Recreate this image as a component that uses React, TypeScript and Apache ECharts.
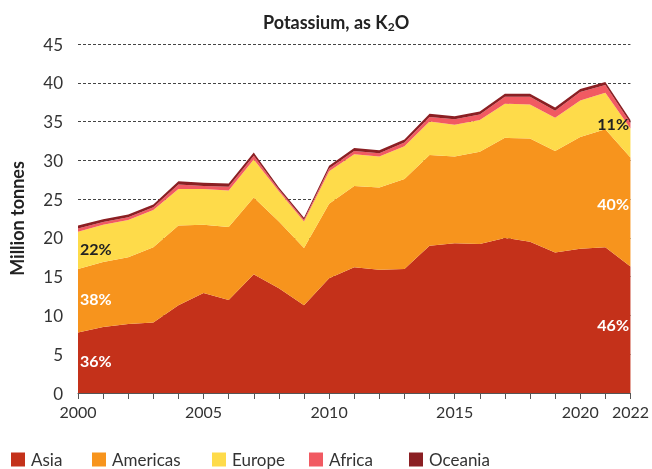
import React, { useEffect, useRef } from "react";
import * as echarts from "echarts";

const years = ["2000","2001","2002","2003","2004","2005","2006","2007","2008","2009","2010","2011","2012","2013","2014","2015","2016","2017","2018","2019","2020","2021","2022"];
const asia = [7.8, 8.5, 8.9, 9.1, 11.3, 12.9, 12.0, 15.3, 13.5, 11.3, 14.8, 16.2, 15.9, 16.0, 19.0, 19.3, 19.2, 20.0, 19.5, 18.1, 18.6, 18.8, 16.3];
const americas = [8.2, 8.4, 8.6, 9.7, 10.3, 8.8, 9.4, 9.9, 8.6, 7.4, 9.6, 10.5, 10.6, 11.6, 11.7, 11.2, 11.9, 12.9, 13.3, 13.1, 14.4, 15.2, 14.05];
const europe = [4.8, 4.8, 4.8, 4.8, 4.7, 4.6, 4.7, 4.9, 3.9, 3.4, 4.2, 4.1, 4.0, 4.2, 4.3, 4.1, 4.1, 4.4, 4.4, 4.3, 4.7, 4.7, 3.75];
const africa = [0.4, 0.35, 0.35, 0.35, 0.6, 0.4, 0.5, 0.5, 0.25, 0.25, 0.35, 0.4, 0.4, 0.5, 0.6, 0.7, 0.7, 0.9, 1.0, 0.9, 1.1, 1.0, 0.7];
const oceania = [0.4, 0.35, 0.35, 0.35, 0.4, 0.4, 0.4, 0.4, 0.25, 0.25, 0.35, 0.4, 0.4, 0.4, 0.4, 0.4, 0.4, 0.4, 0.4, 0.4, 0.4, 0.4, 0.4];
const yTicks = [0, 5, 10, 15, 20, 25, 30, 35, 40, 45];
const xLabelYears = ["2000", "2005", "2010", "2015", "2020", "2022"];

const names = ["Asia", "Americas", "Europe", "Africa", "Oceania"];
const colors = ["#C4311A", "#F7941D", "#FEDB4A", "#F15A62", "#8B1F23"];
const seriesData = [asia, americas, europe, africa, oceania];

const FONT = "Lato, 'Noto Sans', sans-serif";

function pct(arr: number[], i: number): string {
  const total = asia[i] + americas[i] + europe[i] + africa[i] + oceania[i];
  return Math.round((arr[i] / total) * 100) + "%";
}

export default function App() {
  const ref = useRef<HTMLDivElement>(null);
  useEffect(() => {
    if (!ref.current) return;
    const chart = echarts.init(ref.current, undefined, { renderer: "svg" });
    const last = years.length - 1;
    const legendLefts = [6, 87, 207, 304, 404];
    const mk = (text: string, x: number, y: number, fill: string, align: string) => ({
      type: "text",
      x,
      y,
      z: 100,
      zlevel: 1,
      style: { text, fill, fontSize: 16, fontWeight: "bold", fontFamily: FONT, textAlign: align, textVerticalAlign: "middle" },
    });
    chart.setOption({
      animation: false,
      title: {
        text: "Potassium, as K{sub|2}O",
        left: 258,
        top: 7,
        textStyle: {
          fontFamily: FONT,
          fontSize: 18,
          fontWeight: "bold",
          color: "#222",
          rich: {
            sub: { fontFamily: FONT, fontSize: 12, fontWeight: "bold", color: "#222", verticalAlign: "bottom", padding: [8, 0, 0, 0] },
          },
        },
      },
      legend: names.map((n, i) => ({
        data: [n],
        left: legendLefts[i],
        top: 446,
        icon: "rect",
        itemWidth: 14,
        itemHeight: 14,
        itemGap: 6,
        textStyle: { fontFamily: FONT, fontSize: 17, color: "#333", padding: [0, 0, 0, 1] },
      })),
      grid: { left: 78, right: 20, top: 44, bottom: 76, containLabel: false },
      xAxis: {
        type: "category",
        data: years,
        boundaryGap: false,
        axisLine: { show: true, lineStyle: { color: "#555", width: 1 } },
        axisTick: { show: true, interval: 0, length: 6, lineStyle: { color: "#555" } },
        axisLabel: {
          interval: 0,
          formatter: (v: string) => (xLabelYears.includes(v) ? v : ""),
          fontFamily: FONT,
          fontSize: 16,
          color: "#333",
          margin: 10,
        },
        splitLine: { show: false },
      },
      yAxis: {
        type: "value",
        min: yTicks[0],
        max: yTicks[yTicks.length - 1],
        interval: 5,
        name: "Million tonnes",
        nameLocation: "middle",
        nameGap: 52,
        nameRotate: 90,
        nameTextStyle: { fontFamily: FONT, fontSize: 18, fontWeight: "bold", color: "#222" },
        axisLine: { show: false },
        axisTick: { show: false },
        axisLabel: { fontFamily: FONT, fontSize: 17, color: "#333", margin: 15 },
        splitLine: { show: true, lineStyle: { color: "#444", type: [3, 2], width: 1 } },
      },
      series: names.map((n, i) => ({
        name: n,
        type: "line",
        stack: "total",
        data: seriesData[i],
        symbol: "none",
        lineStyle: { width: 0 },
        itemStyle: { color: colors[i] },
        areaStyle: { color: colors[i], opacity: 1 },
        z: 2,
      })),
      graphic: [
        mk(pct(asia, 0), 80, 360, "#fff", "left"),
        mk(pct(americas, 0), 80, 298, "#fff", "left"),
        mk(pct(europe, 0), 80, 248, "#222", "left"),
        mk(pct(asia, last), 629, 324, "#fff", "right"),
        mk(pct(americas, last), 629, 203, "#fff", "right"),
        mk(pct(europe, last), 629, 123, "#222", "right"),
      ],
    });
    return () => chart.dispose();
  }, []);
  return <div ref={ref} style={{ position: "fixed", left: 0, top: 0, width: 652, height: 469 }} />;
}
